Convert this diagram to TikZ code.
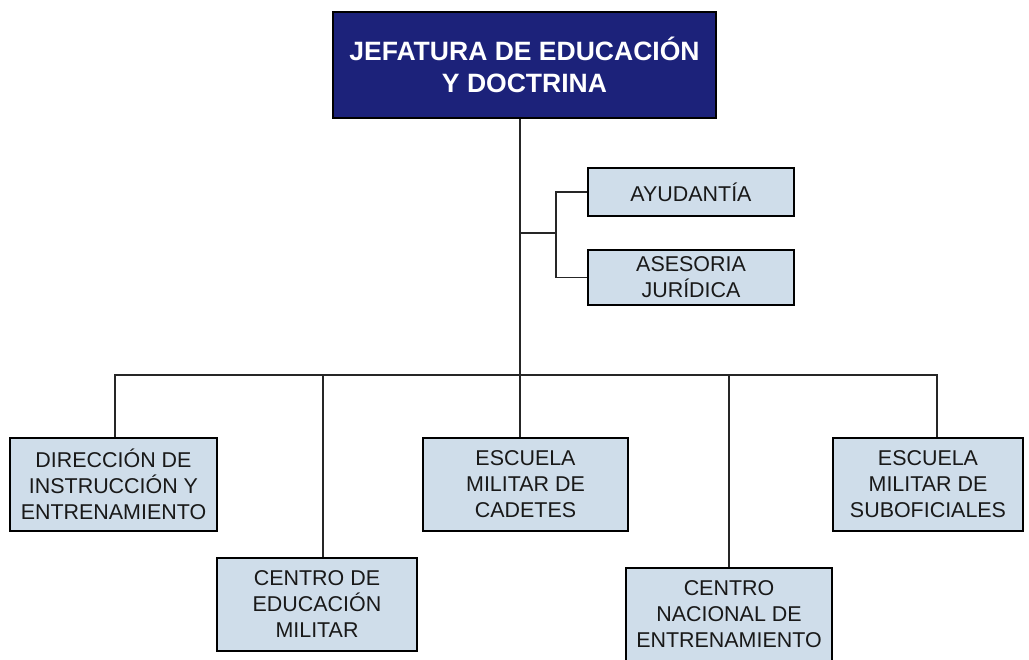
\documentclass[tikz,border=0pt]{standalone}
\usepackage{fontspec}
\setmainfont{Liberation Sans}
\definecolor{navybox}{RGB}{28,34,122}
\definecolor{unitfill}{RGB}{207,221,234}
\tikzset{
  headbox/.style={draw=black, line width=1.2pt, fill=navybox, text=white,
    font=\fontsize{15.1}{18}\selectfont\bfseries, align=center, inner sep=0pt,
    minimum width=7.66cm, minimum height=2.12cm},
  unitbox/.style={draw=black, line width=1.1pt, fill=unitfill, text=black!90,
    font=\fontsize{12.2}{14.8}\selectfont, align=center, inner sep=0pt,
    minimum height=1.86cm},
  sidebox/.style={unitbox, minimum width=4.12cm},
  link/.style={line width=0.7pt, black!85},
}
\begin{document}
\begin{tikzpicture}[x=0.02cm, y=-0.02cm]
  \useasboundingbox (0,0) rectangle (1029,660);
  \clip (0,0) rectangle (1029,660);
  % head and staff
  \node[headbox] (jefatura) at (524.5,65) {JEFATURA DE EDUCACIÓN\\Y DOCTRINA};
  \node[sidebox, minimum height=0.96cm] (ayudantia) at (691,192) {AYUDANTÍA};
  \node[sidebox, minimum height=1.10cm] (asesoria) at (691,277.5) {ASESORIA\\JURÍDICA};
  % units
  \node[unitbox, minimum width=4.14cm] (direccion) at (113.5,484.5) {DIRECCIÓN DE\\INSTRUCCIÓN Y\\ENTRENAMIENTO};
  \node[unitbox, minimum width=4.00cm] (cemil) at (317,604.5) {CENTRO DE\\EDUCACIÓN\\MILITAR};
  \node[unitbox, minimum width=4.10cm] (escmil) at (525.5,484.5) {ESCUELA\\MILITAR DE\\CADETES};
  \node[unitbox, minimum width=4.12cm] (cenent) at (729,614.5) {CENTRO\\NACIONAL DE\\ENTRENAMIENTO};
  \node[unitbox, minimum width=3.80cm] (esubof) at (928,484.5) {ESCUELA\\MILITAR DE\\SUBOFICIALES};
  % connectors
  \coordinate (bus) at (520,375);
  \coordinate (side) at (556,233);
  \draw[link] (jefatura.south -| bus) -- (escmil.north -| bus);
  \draw[link] (side -| bus) -- (side);
  \draw[link] (ayudantia.west) -| (side) |- (asesoria.west);
  \draw[link] ([xshift=0.03cm]direccion.north) |- (bus) -| ([xshift=0.18cm]esubof.north);
  \draw[link] ([xshift=0.12cm]cemil.north) -- ([xshift=0.12cm]cemil.north |- bus);
  \draw[link] (cenent.north) -- (cenent.north |- bus);
\end{tikzpicture}
\end{document}
